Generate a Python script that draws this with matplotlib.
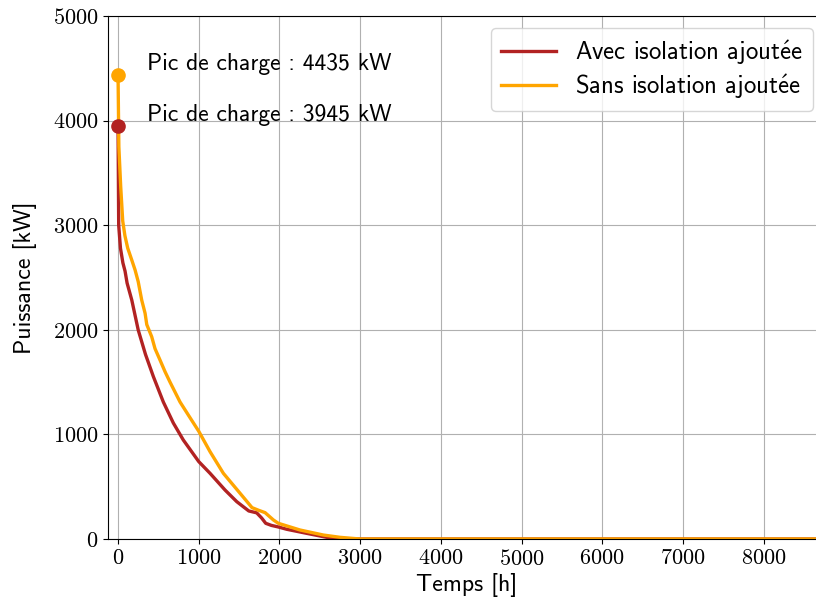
import matplotlib
matplotlib.use("Agg")
import matplotlib.pyplot as plt

# Monotone load duration curves (hours sorted by descending demand)
hours_avec = [0, 8, 30, 60, 87, 112, 170, 250, 340, 438, 561, 685, 809, 1000,
              1140, 1326, 1471, 1620, 1718, 1780, 1830, 1900, 1986, 2090, 2338,
              2586, 2668, 2720, 8760]
power_avec = [3945, 3000, 2780, 2640, 2560, 2447, 2285, 1998, 1765, 1552, 1310,
              1109, 946, 740, 628, 468, 357, 268, 250, 200, 150, 130, 115, 93,
              54, 16, 5, 0, 0]

hours_sans = [0, 10, 33, 58, 85, 120, 170, 211, 250, 293, 335, 356, 417, 458,
              520, 582, 644, 768, 871, 1000, 1140, 1305, 1512, 1660, 1740, 1822,
              1925, 1986, 2255, 2544, 2751, 2999, 8760]
power_sans = [4435, 3750, 3368, 3040, 2900, 2780, 2667, 2572, 2460, 2285, 2158,
              2050, 1934, 1820, 1711, 1600, 1500, 1310, 1185, 1030, 835, 628,
              437, 300, 275, 252, 182, 150, 86, 38, 16, 0, 0]

# "é" is set through mathtext so it stays in Computer Modern Sans
e_acute = r"$\mathsf{\acute{e}}$"
label_avec = f"Avec isolation ajout{e_acute}e"
label_sans = f"Sans isolation ajout{e_acute}e"
peak_avec = max(power_avec)
peak_sans = max(power_sans)

x_ticks = list(range(0, 9000, 1000))
y_ticks = list(range(0, 6000, 1000))

plt.rcParams["font.family"] = ["cmss10", "DejaVu Sans"]
plt.rcParams["mathtext.fontset"] = "cm"
plt.rcParams["axes.formatter.use_mathtext"] = True

sans_size = 17.2

fig = plt.figure(figsize=(8.16, 6.10), dpi=100)
ax = fig.add_axes([0.1324, 0.1164, 0.8786, 0.8574])

red = "#b22222"
orange = "#ffa500"

ax.plot(hours_avec, power_avec, color=red, lw=2.4, label=label_avec, zorder=2)
ax.plot(hours_sans, power_sans, color=orange, lw=2.4, label=label_sans, zorder=2)
ax.plot([0], [peak_avec], "o", color=red, ms=9.5, zorder=3)
ax.plot([0], [peak_sans], "o", color=orange, ms=9.5, zorder=3)

ax.text(360, peak_sans, f"Pic de charge : {peak_sans} kW", va="bottom",
        fontsize=17)
ax.text(360, peak_avec, f"Pic de charge : {peak_avec} kW", va="bottom",
        fontsize=17)

ax.set_xlim(-124, 8760)
ax.set_ylim(0, 5000)
ax.set_xticks(x_ticks)
ax.set_yticks(y_ticks)
ax.tick_params(labelsize=16, labelfontfamily="cmr10")
ax.grid(True, color="#b0b0b0", lw=0.8)
ax.set_axisbelow(True)

ax.set_xlabel("Temps [h]", fontsize=sans_size, labelpad=3)
ax.set_ylabel("Puissance [kW]", fontsize=sans_size, labelpad=11)

ax.legend(loc="upper right", fontsize=17.8, handlelength=2.2, labelspacing=0.2)

fig.savefig("out.png", dpi=100)
